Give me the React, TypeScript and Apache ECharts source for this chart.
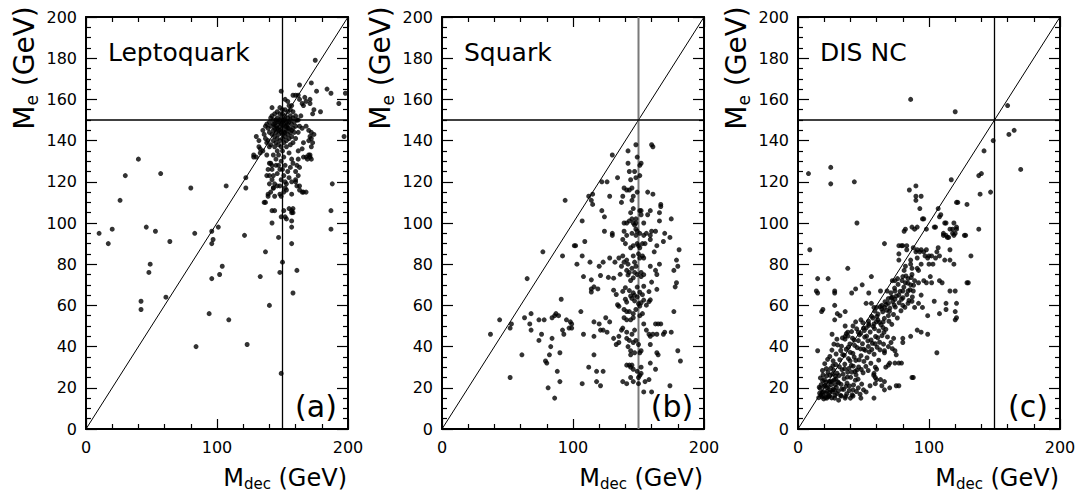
import React, { useEffect, useRef } from "react";
import * as echarts from "echarts";

// ---------------- data (M_dec, M_e) in GeV ----------------
const leptoquarkOutliers: number[][] = [
  [10,95],[17,90],[20,97],[26,111],[30,123],[40,131],[46,98],[53,96],[57,124],[64,91],[80,117],[83,95],
  [96,96],[97,92],[96,90],[101,98],[107,118],[121,94],[122,117],[122,122],[142,100],[147,93],[157,90],
  [142,106],[144,106],[152,103],[155,107],[158,107],[157,105],[157,101],[157,98],[187,106],[187,97],
  [188,119],[197,142],[193,158],[198,163],[175,179],[172,168],[176,164],[184,165],[187,163],[179,154],
  [149,164],[163,167],
  [42,62],[42,58],[48,76],[49,80],[61,64],[84,40],[94,56],[96,73],[102,75],[104,79],[109,53],[123,41],
  [133,74],[137,86],[140,60],[148,76],[149,27],[150,81],[158,66],[161,77],
];
const leptoquarkCluster: number[][] = [
  [171,160],[167,161],[168,159],[158,162],[160,162],[152,160],[154,159],[155,157],[157,157],[162,162],
  [163,160],[165,158],[166,157],[142,156],[171,158],[174,155],[173,153],
  [138,148],[137,147],[135,145],[136,143],[137,141],[130,142],[132,140],[128,133],[130,132],[133,134],
  [133,136],[135,135],
  [141,129],[142,126],[143,123],[144,119],[140,123],[145,128],[148,126],[151,123],[149,121],[153,119],
  [152,117],[151,115],[146,118],[143,117],[141,115],[144,113],[148,114],[149,113],[139,114],[137,110],
  [151,106],[157,106],[158,105],[149,103],[153,102],[160,121],[163,118],[165,115],[166,115],[162,131],
  [161,128],[163,127],[169,131],[171,132],[172,131],[170,133],[174,143],[172,144],[171,142],[170,140],
  [166,139],[165,136],[162,135],
  [128,132],[132,137],[138,133],[140,129],[142,128],[139,126],[138,123],[142,121],[140,119],[143,117],
  [136,110],[139,113],[148,118],[152,120],[153,116],[160,120],[161,118],[157,114],[163,116],[168,115],
  [166,132],[168,132],[171,133],[172,141],[173,139],[172,137],[170,145],[168,147],
  [145,150],[147,149],[149,151],[151,150],[153,149],[148,147],[150,146],[152,147],[154,148],[146,146],
  [144,148],[143,150],[142,152],[144,153],[146,154],[148,153],[150,153],[152,152],[154,151],[156,150],
  [157,148],[155,146],[153,145],[151,144],[149,144],[147,143],[145,144],[143,145],[141,147],[140,149],
  [141,151],[143,148],[145,147],[147,145],[149,148],[151,148],[153,147],[155,149],[156,152],[158,151],
  [159,149],[158,146],[156,144],[154,143],[152,142],[150,141],[148,140],[146,141],[144,142],[142,143],
  [140,144],[139,146],[148,156],[150,155],[152,155],[154,154],[146,151],[148,150],[150,149],[152,150],
  [144,146],[146,149],[148,145],[150,143],[152,144],[154,146],[157,145],[159,144],[160,147],[161,150],
  [160,152],[158,154],[156,155],[145,139],[147,138],[149,137],[151,139],[153,140],[155,141],[157,142],
  [160,141],[162,144],[163,147],[162,150],[164,152],[165,146],[143,140],[141,138],[139,140],[144,137],
  [146,135],[150,135],[153,137],[156,138],[158,139],[140,137],[138,139],[143,133],[147,133],[151,132],
  [155,134],[157,131],[149,130],[145,131],[152,128],[147,128],[154,125],[150,126],[146,124],[156,127],
  [158,129],[160,125],[162,123],[155,122],[157,120],
];

const squarkPoints: number[][] = [
  [148,138],[160,138],[161,137],[142,135],[130,133],[149,132],[142,129],[152,129],[151,128],
  [143,125],[147,125],[151,123],[148,122],[144,121],[134,122],[126,120],[122,120],
  [139,117],[141,116],[143,116],[145,117],[149,115],[157,115],[161,114],[138,113],[146,113],[145,111],
  [137,110],[115,114],[112,113],[114,111],[115,109],[94,111],[128,113],[122,106],[124,103],[107,101],
  [146,107],[144,105],[151,106],[152,106],[152,104],[159,106],[157,104],[166,105],[167,108],[167,109],
  [175,102],[166,101],
  [139,100],[141,100],[143,101],[145,102],[146,100],[148,102],[148,100],[154,100],[147,99],[148,97],
  [124,96],[130,95],[130,94],[139,96],[141,94],[145,95],[148,94],[149,96],[151,95],[154,94],[156,95],
  [159,94],[160,96],[163,96],[170,95],[174,93],
  [138,92],[140,90],[144,88],[146,89],[149,90],[150,89],[151,88],[153,90],[155,90],[159,92],[164,89],
  [169,91],[181,87],
  [109,91],[102,89],[101,89],[77,86],[92,84],[107,84],[113,81],[103,80],[108,74],[120,79],[123,81],
  [128,83],[132,81],[135,83],[138,84],[139,81],[141,82],[142,80],[146,84],[147,81],[150,85],[151,83],
  [153,84],[154,83],[162,86],[159,79],[166,80],[163,77],[164,75],[179,82],[180,79],[177,77],
  [137,79],[141,77],[143,76],[145,78],[147,76],[148,79],[149,75],[152,74],[152,76],[121,74.5],[131,73.2],
  [136,75.1],[65,73],[114,72.4],[127,73.6],[142,74.8],[144,72.1],[146,73.4],[154,74.9],[160,71.3],
  [179,71],[178,69],[114,68],[116,69],[119,68],[114,66.5],
  [131,67.4],[133,65.3],[138,66.8],[140,68.6],[143,67.2],[144,64.6],[146,66.1],[147,64.9],[149,68.9],
  [151,66.4],[153,65.2],[154,69.3],[158,66.7],[164,67.8],
  [140,63],[141,61.6],[145,63.4],[147,62.2],[149,64.1],[150,60.8],[151,59.7],[152,61.3],[154,62.6],
  [156,60.1],[158,61.8],[159,62.7],[134,60.3],[135,59.6],[177,57],[91,63],
  [139,58],[141,57],[143,57],[146,56],[148,58],[151,55],[139,54],[141,53],[144,53],[146,54],[153,56],
  [106,57],
  [68,56],[74,53],[78,53],[84,54],[86,55],[87,56],[89,55],[95,53],[98,52],[99,51],[92,48],[93,46],
  [97,49],[99,49],
  [63,54],[67,51],[68,48],[76,46],[74,43],[84,44],[83,40],[82,36],[79,33],[80,32],[90,37],[88,28],
  [90,23],[81,20],[86,15],[52,25],[61,36],[37,46],[44,53],[53,51],[52,49],
  [108,46],
  [116,52],[120,51],[116,45],[121,48],[123,48],[126,47],[125,54],[128,52],[116,36],[112,30],[118,28],
  [123,28],[118,23],[121,21],[107,22],
  [131,44],[135,45],[133,41],[135,42],[137,48],[138,49],[141,47],[141,44],[143,43],[145,46],[146,42],
  [147,48],[148,43],[150,41],[142,40],[144,38],[147,37],[151,37],[152,38],[144,36],
  [154,51],[156,48],[158,46],[159,45],[161,46],[163,51],[164,46],[165,51],[167,51],[169,46],[170,47],
  [175,47],[180,38],[182,33],[159,41],[164,37],[165,36],[159,32],[163,29],[174,21],[160,18],[154,18],
  [155,23],[158,24],
  [141,31],[143,31],[145,31],[144,30],[146,29],[149,28],[152,30],[152,27],[150,25],[144,25],[141,22],
  [138,23],[146,23],[150,22],[151,26],
];

const disUpper: number[][] = [
  [8,124],[25,127],[25,119],[43,120],[45,100],[86,160],[120,154],[160,157],[161,143],[165,145],[149,140],
  [142,135],[140,124],[138,123],[139,114],[147,115],[138,97],[129,109],[117,121],[121,110],[122,110],
  [127,94],[119,94],[121,97],[119,100],[170,126],
  [85,116],[90,118],[94,113],[90,113],[90,111],[93,107],[95,102],[96,102],[98,97],[91,98],[87,98],[82,97],
  [107,107],[108,103],[109,104],[113,100],[105,98],[111,94],[113,94],[115,93],[118,95],
  [66,90],[77,89],[80,89],[88,88],[91,87],[94,87],[98,87],[107,88],[116,87],[9,87],
  [15,73],[23,73],[15,66],[28,66],[38,78],[44,68],[49,70],[56,74],[54,66],
  [81,96],[89,97],[104,98],[112,100],[116,97],[118,97],[121,98],[120,95],[111,95],[114,93],
  [128,94],[132,84],[130,71],[116,67],
  [77,85],[83,87],[86,82],[90,86],[97,84],[91,83],[99,83],[102,84],[105,83],
  [77,82],[82,79],[81,77],[86,80],[87,78],[91,78],[92,77],[94,80],[100,80],[103,80],[112,82],[87,75],
  [84,73],[80,74],[76,73],[74,72],[72,72],[82,71],[86,70],[89,72],[92,71],[96,72],[98,71],[101,74],
  [102,71],[108,72],[110,71],
  [18,57],[15,38],[129,71],[120,67],[121,61],[120,53],[113,58],[106,37],[88,25],
  [79,89],[83,89],[93,86],[96,86],[106,86],[100,84],[108,84],[116,82],[119,80],
];
const disBand: number[][] = [
  [14,67],[28,67],[41,66],[63,67],[68,67],[74,67],[80,67],[84,67],[88,67],[94,65],
  [19,58],[28,60],[30,56],[32,55],[36,57],[52,61],[56,61],[58,59],[60,59],[64,60],[66,59],[69,61],
  [72,64],[74,63],[77,65],[79,63],[80,60],[84,61],[87,62],[89,59],[92,61],[95,59],[99,55],[104,62],
  [108,56],[113,61],[120,57],[121,54],
  [26,46],[28,53],[36,50],[36,45],[38,47],[42,50],[44,52],[48,53],[46,47],[50,49],[54,51],[58,51],
  [61,53],[65,52],[69,55],
  [19,16],[22,15],[24,16],[28,15],[31,14],[33,16],[36,15],[40,15],[42,16],[48,15],[58,15],[42,19],
  [46,20],[50,19],[52,18],[55,21],[59,22],[63,24],[66,23],
  [66,38],[69,40],[72,39],[74,38],[75,36],[70,32],[69,31],[67,30],[74,32],[77,32],[79,32],[59,25],
  [60,24],[64,21],[66,19],[70,20],[75,21],[77,21],[87,25],[99,46],[94,47],[91,48],[86,45],[80,44],
  [80,42],[73,44],[71,42],[66,37],[59,30],[60,29],[58,27],
];
const disCore: number[][] = [
  [15.8,15.2],[16.9,19.7],[17.4,16.6],[18.8,23.4],[19.3,18.1],[19.7,14.6],[20.6,21.2],[21.2,17.4],
  [21.9,25.8],[22.4,19.9],[22.8,15.7],[23.6,23.1],[24.2,17.9],[24.9,29.4],[25.3,21.6],[25.7,15.1],
  [26.5,26.7],[26.9,19.3],[27.6,23.8],[28.2,16.4],[28.7,31.3],[29.3,20.2],[29.8,27.1],[19.1,26.2],
  [17.7,21.5],[20.2,23.9],[21.6,29.3],[23.1,20.6],[24.4,26.1],[26.1,23.2],[27.2,28.6],[28.9,24.3],
  [22.2,18.3],[18.4,17.8],[16.5,17.4],[25.1,18.8],[27.8,18.9],[29.6,17.2],[20.9,15.3],[23.7,16.2],
  [26.6,30.8],[24.7,22.9],[19.8,20.7],[18.1,15.6],[21.4,22.7],[28.4,21.5],[22.9,27.6],[16.2,20.3],
  [30.4,22.8],[17.1,24.8],
  [30.8,18.4],[31.3,25.9],[31.9,33.6],[32.5,16.3],[32.9,21.7],[33.6,28.8],[34.1,36.1],[34.8,19.2],
  [35.2,24.4],[35.7,31.5],[36.3,15.8],[36.8,38.7],[37.4,22.3],[37.9,27.6],[38.5,34.2],[39.1,18.7],
  [39.6,41.3],[40.2,25.1],[40.7,30.9],[41.3,16.6],[41.9,36.7],[42.4,21.4],[42.9,43.2],[43.5,27.9],
  [44.1,33.3],[44.6,18.2],[45.2,39.5],[45.8,24.2],[46.3,30.1],[46.9,45.7],[47.4,16.9],[48.1,35.6],
  [48.6,21.8],[49.2,41.4],[49.7,27.3],[50.3,32.8],[33.2,40.2],[35.9,43.6],[38.2,45.1],[40.9,47.3],
  [31.6,30.2],[34.4,26.6],[36.6,20.7],[38.9,29.4],[43.8,23.7],[47.7,38.9],[39.8,33.1],[42.2,30.5],
  [44.9,28.6],[37.2,17.1],
  [50.9,44.6],[51.4,38.2],[52.1,49.1],[52.7,34.6],[53.3,42.8],[53.8,52.4],[54.4,37.4],[55.1,47.1],
  [55.6,31.9],[56.2,54.7],[56.8,41.6],[57.5,49.8],[58.1,36.3],[58.7,57.2],[59.2,44.9],[59.8,52.1],
  [60.4,39.7],[61.1,55.8],[61.7,47.6],[62.3,42.1],[62.8,59.4],[63.4,50.6],[64.1,45.3],[64.7,56.9],
  [65.3,41.2],[65.9,53.7],[66.4,61.8],[67.1,48.4],[67.7,57.6],[68.3,44.7],[68.9,63.3],[69.4,52.3],
  [53.6,28.4],[57.8,26.1],[61.6,33.4],
  [70.2,58.7],[70.9,66.1],[71.6,50.8],[72.3,61.9],[72.9,55.6],[73.7,68.4],[74.3,59.2],[75.1,64.6],
  [75.8,53.9],[76.4,70.2],[77.2,61.3],[77.9,66.8],[78.6,57.4],[79.4,72.1],[80.1,63.7],[80.8,68.9],
  [81.6,59.1],[82.4,74.3],[83.1,65.2],[83.9,70.8],[84.7,62.4],[85.6,67.6],[86.4,73.5],[87.3,64.1],
  [88.2,69.8],
  [24.3,35.2],[26.8,33.1],[29.1,36.4],[30.2,40.8],[32.6,38.1],[33.9,44.2],[35.3,35.8],[36.9,46.3],
  [38.4,39.7],[39.9,37.2],[41.6,44.1],[43.2,40.6],[44.8,48.6],[46.1,42.9],[47.9,46.4],[49.5,51.6],
  [50.6,47.8],[52.4,45.1],[54.1,50.3],[55.8,43.2],[57.1,53.9],[58.4,48.7],[60.2,54.6],[62.1,51.8],
  [63.9,58.3],[65.6,46.9],[67.3,60.4],[69.8,57.1],[71.2,63.8],[73.4,60.2],
  [26.3,18.1],[28.6,25.7],[31.1,22.4],[33.4,19.4],[35.6,29.3],[37.7,25.2],[39.3,20.9],[41.1,27.6],
  [42.9,34.9],[44.3,26.3],[46.7,33.6],[48.3,28.9],[50.2,38.7],[51.8,30.4],[53.7,40.1],[56.3,38.6],
  [58.9,41.4],[60.9,44.3],[62.6,38.4],[64.9,49.2],
  [18.7,28.4],[20.4,31.7],[22.6,33.8],[25.9,38.3],[27.4,41.2],[29.7,43.6],
];

const diagonal = [[0, 0], [200, 200]];
const verticalCut = [[150, 0], [150, 200]];
const horizontalCut = [[0, 150], [200, 150]];
const panelTitles = ["Leptoquark", "Squark", "DIS NC"];
const panelTags = ["(a)", "(b)", "(c)"];

const FONT = "DejaVu Sans";
const gridLefts = [86, 442, 798];
const gridWidth = 262;

function xAxesFor(gridIndex: number) {
  const base: any = {
    type: "value", gridIndex, min: 0, max: 200, interval: 100,
    axisLine: { show: true, onZero: false, lineStyle: { color: "#000", width: 2 } },
    axisTick: { show: true, inside: true, length: 10, lineStyle: { color: "#000", width: 1.2 } },
    minorTick: { show: true, splitNumber: 5, length: 5, lineStyle: { color: "#000", width: 1.2 } },
    splitLine: { show: false }, minorSplitLine: { show: false },
  };
  return [
    { ...base, position: "bottom", axisLabel: { show: true, color: "#000", fontFamily: FONT, fontSize: 16, margin: 10 } },
    { ...base, position: "top", axisLabel: { show: false } },
  ];
}
function yAxesFor(gridIndex: number) {
  const base: any = {
    type: "value", gridIndex, min: 0, max: 200, interval: 20,
    axisLine: { show: true, onZero: false, lineStyle: { color: "#000", width: 2 } },
    axisTick: { show: true, inside: true, length: 11, lineStyle: { color: "#000", width: 1.2 } },
    minorTick: { show: true, splitNumber: 4, length: 5, lineStyle: { color: "#000", width: 1.2 } },
    splitLine: { show: false }, minorSplitLine: { show: false },
  };
  return [
    { ...base, position: "left", axisLabel: { show: true, color: "#000", fontFamily: FONT, fontSize: 16, margin: 9 } },
    { ...base, position: "right", axisLabel: { show: false } },
  ];
}

function lineSeries(i: number, data: number[][], color = "#000", width = 1) {
  return {
    type: "line", xAxisIndex: i * 2, yAxisIndex: i * 2, data, symbol: "none", silent: true,
    lineStyle: { color, width }, z: 1,
  };
}

export default function App() {
  const ref = useRef<HTMLDivElement>(null);
  useEffect(() => {
    if (!ref.current) return;
    const chart = echarts.init(ref.current, undefined, { renderer: "svg" });
    const panels = [
      [...leptoquarkOutliers, ...leptoquarkCluster],
      squarkPoints,
      [...disUpper, ...disBand, ...disCore],
    ];
    const series: any[] = [];
    panels.forEach((pts, i) => {
      series.push(lineSeries(i, diagonal, "#000", 1));
      series.push(lineSeries(i, verticalCut, i === 1 ? "#7a7a7a" : "#000", i === 1 ? 2 : 1.3));
      series.push(lineSeries(i, horizontalCut, "#000", 1.3));
      series.push({
        type: "scatter", xAxisIndex: i * 2, yAxisIndex: i * 2, data: pts,
        symbol: "circle", symbolSize: 5, itemStyle: { color: "#000" }, silent: true, z: 3,
      });
    });
    const subRich = (main: number, sub: number, pad: number) => ({
      m: { fontSize: main, lineHeight: main, fontFamily: FONT, fill: "#000", verticalAlign: "top" },
      s: { fontSize: sub, lineHeight: sub, fontFamily: FONT, fill: "#000", verticalAlign: "top", padding: [pad, 0, 0, 0] },
    });
    const graphics: any[] = [];
    gridLefts.forEach((left, i) => {
      const right = left + gridWidth;
      graphics.push({
        type: "text", x: left - 62, y: 68, rotation: Math.PI / 2,
        style: { text: "{m|M}{s|e}{m| (GeV)}", rich: subRich(28, 17, 13), align: "center", verticalAlign: "middle" },
      });
      graphics.push({
        type: "text", x: right - 1, y: 478,
        style: { text: "{m|M}{s|dec}{m| (GeV)}", rich: subRich(24, 15, 10), align: "right", verticalAlign: "middle" },
      });
      graphics.push({
        type: "text", x: left + 22, y: 52,
        style: { text: panelTitles[i], fontFamily: FONT, fontSize: 25, fill: "#000", align: "left", verticalAlign: "middle" },
      });
      graphics.push({
        type: "text", x: right - 32, y: 406,
        style: { text: panelTags[i], fontFamily: FONT, fontSize: 30, fill: "#000", align: "center", verticalAlign: "middle" },
      });
    });
    chart.setOption({
      animation: false,
      backgroundColor: "#fff",
      grid: gridLefts.map((left) => ({ left, top: 17, width: gridWidth, height: 412, containLabel: false })),
      xAxis: [0, 1, 2].flatMap((g) => xAxesFor(g)),
      yAxis: [0, 1, 2].flatMap((g) => yAxesFor(g)),
      series,
      graphic: graphics,
    });
    return () => chart.dispose();
  }, []);
  return (
    <div style={{ position: "absolute", left: 0, top: 0, width: 1080, height: 495 }}>
      <div ref={ref} style={{ width: 1080, height: 495 }} />
    </div>
  );
}
